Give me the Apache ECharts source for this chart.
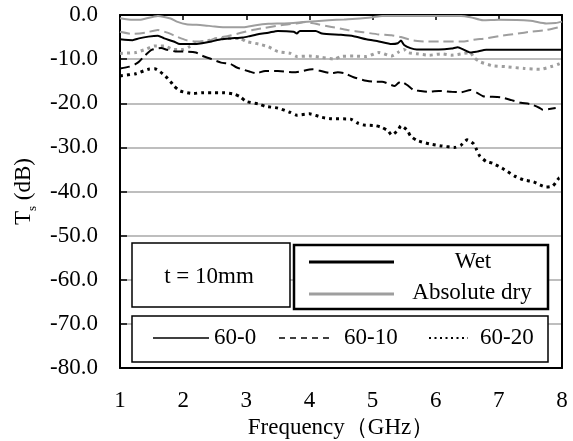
<!DOCTYPE html>
<html>
<head>
<meta charset="utf-8">
<script src="https://cdn.jsdelivr.net/npm/echarts@6/dist/echarts.min.js"></script>
<style>html,body{margin:0;padding:0;background:#fff}#c{width:573px;height:441px}</style>
</head>
<body>
<div id="c"></div>
<script>
// ---- data (frequency GHz, Ts dB) ----
const xTicks = [1, 2, 3, 4, 5, 6, 7, 8];
const yTicks = [0, -10, -20, -30, -40, -50, -60, -70, -80];

const wet_60_0 = [[1.0,-5.5],[1.2,-5.7],[1.3,-5.3],[1.45,-4.9],[1.6,-4.7],[1.7,-5.3],[1.85,-6.0],[1.95,-6.6],[2.15,-6.6],[2.3,-6.4],[2.45,-6.0],[2.6,-5.5],[2.75,-5.3],[2.95,-5.1],[3.05,-4.8],[3.2,-4.3],[3.35,-4.0],[3.5,-3.6],[3.75,-3.8],[3.8,-4.2],[3.85,-3.6],[4.1,-3.6],[4.2,-4.2],[4.5,-4.5],[4.7,-4.8],[4.9,-5.5],[5.1,-6.0],[5.3,-6.6],[5.4,-6.4],[5.45,-5.8],[5.5,-6.8],[5.6,-7.5],[5.7,-7.8],[5.95,-7.8],[6.05,-7.8],[6.25,-7.6],[6.35,-7.3],[6.45,-7.9],[6.55,-8.5],[6.65,-8.3],[6.8,-7.9],[7.0,-7.9],[7.5,-7.9],[8.0,-7.9]];

const wet_60_10 = [[1.0,-12.1],[1.15,-11.7],[1.25,-11.1],[1.3,-10.6],[1.4,-9.1],[1.5,-7.9],[1.65,-7.5],[1.75,-7.9],[1.9,-8.3],[2.05,-8.3],[2.2,-8.5],[2.3,-9.2],[2.45,-10.0],[2.6,-10.8],[2.75,-11.1],[2.85,-11.9],[3.05,-12.8],[3.15,-13.2],[3.3,-12.7],[3.5,-12.7],[3.75,-13.0],[4.05,-12.3],[4.15,-12.6],[4.35,-13.2],[4.45,-13.0],[4.55,-13.2],[4.7,-14.1],[4.9,-14.9],[5.0,-15.1],[5.15,-15.1],[5.35,-16.1],[5.4,-15.5],[5.45,-15.1],[5.55,-15.9],[5.65,-17.0],[5.75,-17.2],[5.9,-17.4],[6.05,-17.2],[6.25,-17.4],[6.4,-17.5],[6.55,-17.0],[6.65,-17.6],[6.75,-18.4],[6.85,-18.5],[7.05,-18.7],[7.2,-19.3],[7.35,-19.9],[7.5,-20.2],[7.65,-21.1],[7.7,-21.5],[7.8,-21.3],[7.9,-21.1]];

const wet_60_20 = [[1.0,-13.8],[1.25,-13.3],[1.45,-12.3],[1.55,-12.2],[1.7,-13.6],[1.8,-15.1],[1.85,-16.0],[1.95,-17.2],[2.15,-17.8],[2.3,-17.6],[2.5,-17.6],[2.65,-17.6],[2.8,-17.9],[2.9,-18.5],[3.0,-19.6],[3.2,-20.2],[3.3,-20.7],[3.5,-21.1],[3.7,-22.1],[3.8,-22.7],[4.0,-22.4],[4.2,-23.2],[4.35,-23.5],[4.65,-23.6],[4.75,-24.4],[4.85,-24.9],[5.05,-25.1],[5.15,-25.5],[5.25,-26.3],[5.3,-27.2],[5.4,-26.2],[5.45,-25.1],[5.55,-26.1],[5.6,-27.4],[5.7,-28.4],[5.9,-29.2],[6.1,-29.7],[6.3,-30.0],[6.4,-29.5],[6.5,-28.3],[6.6,-29.2],[6.65,-30.6],[6.7,-32.0],[6.8,-33.2],[6.9,-33.6],[7.05,-34.7],[7.25,-36.5],[7.4,-37.4],[7.55,-37.8],[7.65,-38.5],[7.75,-39.0],[7.85,-38.8],[7.9,-38.0],[7.95,-37.0],[8.0,-36.7]];

const dry_60_0 = [[1.0,-0.75],[1.2,-1.1],[1.35,-1.0],[1.6,-0.2],[1.8,-0.8],[1.9,-1.5],[2.05,-2.1],[2.3,-2.3],[2.5,-2.6],[2.7,-2.8],[2.95,-2.8],[3.15,-2.3],[3.35,-2.0],[3.6,-1.9],[3.9,-1.6],[4.3,-1.2],[4.55,-1.0],[4.8,-0.8],[5.0,-0.5],[5.15,-0.2],[6.4,-0.2],[6.55,-0.5],[6.75,-1.2],[7.0,-1.1],[7.5,-1.3],[7.75,-1.9],[7.9,-1.8],[8.0,-1.5]];

const dry_60_10 = [[1.0,-3.8],[1.2,-4.3],[1.4,-4.0],[1.6,-3.4],[1.75,-4.0],[1.9,-4.9],[2.05,-5.7],[2.2,-6.0],[2.4,-5.9],[2.5,-5.3],[2.7,-4.8],[2.9,-4.1],[3.1,-3.4],[3.3,-2.9],[3.55,-2.3],[3.8,-1.9],[3.95,-1.6],[4.1,-2.0],[4.35,-2.7],[4.6,-3.4],[4.85,-3.9],[5.1,-4.4],[5.3,-4.6],[5.45,-5.0],[5.65,-5.8],[5.85,-6.0],[6.1,-6.0],[6.45,-6.0],[6.6,-5.6],[6.8,-5.3],[7.0,-4.8],[7.3,-4.2],[7.5,-3.8],[7.75,-3.4],[8.0,-2.6]];

const dry_60_20 = [[1.0,-8.7],[1.25,-8.5],[1.4,-7.8],[1.55,-7.0],[1.7,-7.0],[1.85,-7.8],[2.0,-7.8],[2.1,-7.2],[2.2,-6.4],[2.4,-5.8],[2.6,-5.3],[2.9,-5.3],[3.0,-6.0],[3.2,-6.6],[3.35,-7.2],[3.5,-8.3],[3.7,-8.7],[3.8,-9.4],[4.0,-9.3],[4.2,-9.6],[4.4,-10.0],[4.5,-9.4],[4.7,-9.3],[4.9,-9.4],[5.1,-8.5],[5.3,-9.3],[5.4,-8.5],[5.5,-7.8],[5.55,-8.5],[5.7,-8.8],[5.9,-9.1],[6.1,-8.8],[6.25,-9.1],[6.45,-8.7],[6.55,-8.5],[6.6,-9.6],[6.7,-10.6],[6.9,-11.5],[7.1,-11.7],[7.4,-12.1],[7.65,-12.3],[7.85,-11.6],[7.95,-11.1],[8.0,-10.8]];

const legendStates = ['Wet', 'Absolute dry'];
const legendRatios = ['60-0', '60-10', '60-20'];
const boxLabel = 't = 10mm';
</script>
<script>
const FONT = "'Liberation Serif', 'Times New Roman', serif";
const FS = 23;
const BLACK = '#000000';
const GRAY = '#9e9e9e';
const chart = echarts.init(document.getElementById('c'), null, {renderer: 'canvas'});

function mk(name, data, color, type, width) {
  return {
    name: name, type: 'line', data: data, xAxisIndex: 0, yAxisIndex: 0,
    showSymbol: false, symbol: 'none', smooth: 0.2, animation: false,
    lineStyle: {color: color, width: width, type: type, cap: 'butt'},
    z: 3
  };
}

const yFmt = v => v.toFixed(1);
const txt = {color: BLACK, fontFamily: FONT, fontSize: FS};

const option = {
  animation: false,
  backgroundColor: '#fff',
  textStyle: {fontFamily: FONT},
  grid: {left: 120, right: 11, top: 15, bottom: 73, containLabel: false, outerBoundsMode: 'none'},
  xAxis: [{
    type: 'value', min: xTicks[0], max: xTicks[xTicks.length - 1], interval: 1,
    position: 'bottom',
    axisLine: {show: true, onZero: false, lineStyle: {color: BLACK, width: 2}},
    axisTick: {show: false},
    splitLine: {show: false},
    axisLabel: Object.assign({margin: 21}, txt),
    name: 'Frequency（GHz）', nameLocation: 'middle', nameGap: 39,
    nameTextStyle: {color: BLACK, fontFamily: FONT, fontSize: FS}
  }, {
    type: 'value', min: xTicks[0], max: xTicks[xTicks.length - 1], interval: 1,
    position: 'top',
    axisLine: {show: true, onZero: false, lineStyle: {color: BLACK, width: 2}},
    axisTick: {show: true, inside: true, length: 5, lineStyle: {color: BLACK, width: 1.5}},
    axisLabel: {show: false}, splitLine: {show: false}
  }],
  yAxis: [{
    type: 'value', min: yTicks[yTicks.length - 1], max: yTicks[0], interval: 10,
    position: 'left',
    axisLine: {show: true, onZero: false, lineStyle: {color: BLACK, width: 2}},
    axisTick: {show: true, inside: true, length: 7, lineStyle: {color: BLACK, width: 1.5}},
    splitLine: {show: true, lineStyle: {color: '#a8a8a8', width: 1.5}},
    axisLabel: Object.assign({margin: 22, formatter: yFmt}, txt),
    name: '{a|T}{s|s}{a| (dB)}', nameLocation: 'middle', nameGap: 80, nameRotate: 90,
    nameTextStyle: {
      color: BLACK, fontFamily: FONT,
      rich: {
        a: {fontFamily: FONT, fontSize: FS, color: BLACK, lineHeight: 30, verticalAlign: 'middle'},
        s: {fontFamily: FONT, fontSize: 13, color: BLACK, lineHeight: 15, verticalAlign: 'bottom'}
      }
    }
  }, {
    type: 'value', min: yTicks[yTicks.length - 1], max: yTicks[0], interval: 10,
    position: 'right',
    axisLine: {show: true, onZero: false, lineStyle: {color: BLACK, width: 2}},
    axisTick: {show: false}, axisLabel: {show: false}, splitLine: {show: false}
  }],
  series: [
    mk('Absolute dry 60-0', dry_60_0, GRAY, 'solid', 2),
    mk('Absolute dry 60-10', dry_60_10, GRAY, [10, 5], 2),
    mk('Absolute dry 60-20', dry_60_20, GRAY, [3, 4], 3),
    mk('Wet 60-0', wet_60_0, BLACK, 'solid', 2),
    mk('Wet 60-10', wet_60_10, BLACK, [10, 5], 2),
    mk('Wet 60-20', wet_60_20, BLACK, [3, 4], 3)
  ],
  graphic: [
    // box 1
    {type: 'rect', shape: {x: 132, y: 243, width: 158, height: 64}, style: {fill: '#fff', stroke: BLACK, lineWidth: 1.5}, z: 10},
    {type: 'text', x: 209, y: 277, style: {text: boxLabel, fontFamily: FONT, fontSize: FS, fill: BLACK, align: 'center', verticalAlign: 'middle'}, z: 11},
    // box 2
    {type: 'rect', shape: {x: 294, y: 245, width: 254, height: 64}, style: {fill: '#fff', stroke: BLACK, lineWidth: 2.5}, z: 10},
    {type: 'line', shape: {x1: 309, y1: 262, x2: 394, y2: 262}, style: {stroke: BLACK, lineWidth: 3}, z: 11},
    {type: 'text', x: 473, y: 262, style: {text: legendStates[0], fontFamily: FONT, fontSize: FS, fill: BLACK, align: 'center', verticalAlign: 'middle'}, z: 11},
    {type: 'line', shape: {x1: 309, y1: 294, x2: 394, y2: 294}, style: {stroke: GRAY, lineWidth: 3}, z: 11},
    {type: 'text', x: 472, y: 293, style: {text: legendStates[1], fontFamily: FONT, fontSize: FS, fill: BLACK, align: 'center', verticalAlign: 'middle'}, z: 11},
    // box 3
    {type: 'rect', shape: {x: 132, y: 316, width: 416, height: 46}, style: {fill: '#fff', stroke: BLACK, lineWidth: 1.5}, z: 10},
    {type: 'line', shape: {x1: 153, y1: 338, x2: 209, y2: 338}, style: {stroke: BLACK, lineWidth: 1.5}, z: 11},
    {type: 'text', x: 214, y: 338, style: {text: legendRatios[0], fontFamily: FONT, fontSize: FS, fill: BLACK, align: 'left', verticalAlign: 'middle'}, z: 11},
    {type: 'line', shape: {x1: 279, y1: 338, x2: 333, y2: 338}, style: {stroke: BLACK, lineWidth: 1.5, lineDash: [6, 5]}, z: 11},
    {type: 'text', x: 344, y: 338, style: {text: legendRatios[1], fontFamily: FONT, fontSize: FS, fill: BLACK, align: 'left', verticalAlign: 'middle'}, z: 11},
    {type: 'line', shape: {x1: 429, y1: 338, x2: 468, y2: 338}, style: {stroke: BLACK, lineWidth: 2, lineDash: [2, 3.5]}, z: 11},
    {type: 'text', x: 480, y: 338, style: {text: legendRatios[2], fontFamily: FONT, fontSize: FS, fill: BLACK, align: 'left', verticalAlign: 'middle'}, z: 11}
  ]
};
chart.setOption(option);
</script>
</body>
</html>
